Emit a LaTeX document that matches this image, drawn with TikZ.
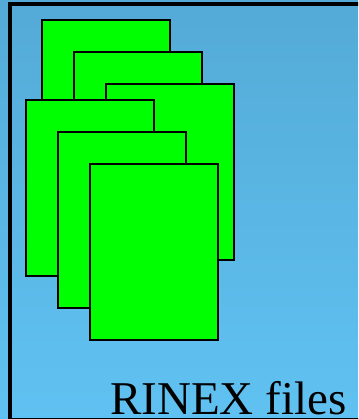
\documentclass[tikz,border=0pt]{standalone}
\usepackage{fontspec}
\setmainfont{Liberation Serif}
\definecolor{skytop}{RGB}{84,170,214}
\definecolor{skybottom}{RGB}{96,194,242}
\definecolor{filegreen}{RGB}{0,255,0}

\begin{document}
\begin{tikzpicture}[x=1pt,y=-1pt,
  rinexfile/.style={draw=black,line width=2pt,fill=filegreen,minimum width=128pt,minimum height=176pt,inner sep=0pt,outer sep=0pt,anchor=north west}]
\useasboundingbox (0,0) rectangle (358,419);
\clip (0,0) rectangle (358,419);
\shade[top color=skytop,bottom color=skybottom] (0,0) rectangle (358,419);
\draw[line width=4pt] (10,4) rectangle (362,420);
% two stacks of three files, each one step down and right
\foreach \i/\x/\y in {1/42/20,2/74/52,3/106/84,4/26/100,5/58/132,6/90/164}
  \node[rinexfile] (file\i) at (\x,\y) {};
\node[anchor=base west,inner sep=0pt,font=\fontsize{47}{50}\selectfont] (label) at (110,414) {RINEX files};
\end{tikzpicture}
\end{document}
